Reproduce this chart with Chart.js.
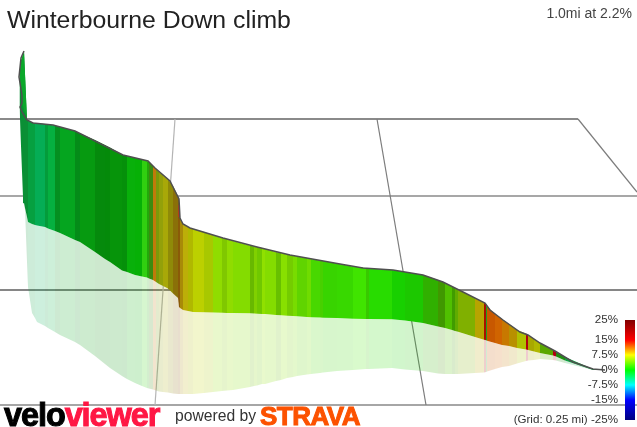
<!DOCTYPE html>
<html><head><meta charset="utf-8">
<script src="https://cdn.jsdelivr.net/npm/chart.js@4/dist/chart.umd.min.js"></script>
<style>
html,body{margin:0;padding:0;background:#fff;overflow:hidden}
#wrap{position:relative;width:637px;height:427px;overflow:hidden}
canvas{position:absolute;left:0;top:0}
.t{position:absolute;white-space:nowrap;font-family:"Liberation Sans",Arial,sans-serif;line-height:1}
#title{left:7px;top:8px;font-size:24.8px;color:#222}
#sub{right:5px;top:6px;font-size:14px;color:#444}
#velo{left:4px;top:399px;font-size:32.5px;font-weight:bold;letter-spacing:-1.1px;color:#000;-webkit-text-stroke:1px currentColor}
#velo span{color:#ff1744}
#pow{left:175px;top:408px;font-size:15.7px;color:#333}
#strava{left:260px;top:403px;font-size:26px;font-weight:bold;color:#fc5200;-webkit-text-stroke:1px #fc5200;letter-spacing:-.5px}
</style></head><body><div id="wrap">
<canvas id="c" width="637" height="427"></canvas>
<div class="t" id="title">Winterbourne Down climb</div>
<div class="t" id="sub">1.0mi at 2.2%</div>
<div class="t" id="velo">velo<span>viewer</span></div>
<div class="t" id="pow">powered by</div>
<div class="t" id="strava">STRAVA</div>
</div>
<script>
const stripX=[19.5,21,23,24,25,27,28,32,35,37,45,48,55,60,75,80,95,105,110,122,127,135,142,147,149,153,156,159,163,168,173,178,179,180,183,188,193,204,213,222,227,233,250,254,257,262,265,276,281,287,293,297,307,311,320,323,337,353,366,369,392,405,423,438,445,452,455,458,475,484,486,487,495,502,509,517,526,528,534,540,553,556,565,593,603];
const topEdge=[75,63,57,51,74,120,120,122.5,123,123.2,124,124.4,125.6,127,131,133.5,140,145,147.5,154.5,156,158,159.5,161,162,166,169,172,175,179,186,196,199,218,224,227,229,232,235,238,239,241,245.5,246.5,247,248,249,252,253,254.5,255.5,256.5,258,259,260.5,261,263.5,266.5,268,268.4,270,272,275,280,283,286.5,288,289.5,298,302.5,304,306.5,314,319,324,330,333.5,335,339,343,350,352,357,369,370];
const foldEdge=[105,146,197,203,208,217,222,224,225,225.5,227,228.4,231,233,240,242,252,259,262,270.5,272,275,276.5,277.5,278.5,280,282,284,286,288.5,293.5,298,307,308,310,311,312,312.3,312.6,312.8,313,313,313.3,313.5,313.7,314,314,315,315.3,315.8,316,316.3,317,317.2,317.5,317.7,318,318.7,319,319,319.2,320.6,323,326.5,328,330,331,331.7,337,339.7,340.3,340.8,343,345,346,348,349.5,350,351.5,353,355.5,356.5,360.5,370,370];
const mirrorEdge=[105,146,197,204,210,262,287,313,318,322,326,328,332,335,342,345,356,364,368,376,379,383,386,388,388.5,389.5,390.5,391.5,392,392.5,393.5,394,394,394,394,394,394,393,392,391,390.5,390,387,386,385.5,384,384,381,380,378,377,376,374.5,374,373,372.5,371,370,369,369,368,369.5,371,373.5,374,374,374,374,373,372.5,372,371.5,369,367,366,363.5,361,360.5,360,359,360,360.5,363,370,370];
const stripColours=["#0a8f35","#0a8f35","#0a8f35","#0a8f35","#0a8f35","#0a8f35","#06a040","#06a040","#05ad55","#05ad55","#049c3a","#05b040","#049020","#05a51f","#048c18","#069a10","#058a0c","#048a0a","#06940a","#05900a","#08b00a","#06b006","#30d010","#22a80a","#3a8c10","#c07a0a","#7a9a0a","#93a00a","#a8a808","#8f8a08","#8a7008","#8a5a08","#8a5a08","#a88a08","#bcae08","#b0b800","#bcd000","#a8c800","#90dc00","#80c800","#90dc00","#84dc00","#68b800","#80d000","#70c800","#90e000","#84dc00","#68c000","#88e000","#74cc00","#78dc00","#60d400","#70dc00","#48d800","#48d000","#38d400","#38d800","#40e400","#38c800","#28dc00","#18d000","#1cc800","#30b000","#409800","#50c000","#409c00","#60ac00","#80b000","#b8a400","#a81000","#20a020","#c85800","#d06400","#c87800","#b89000","#b0c000","#b00010","#a8a800","#b0b800","#5aa800","#b00010","#209010","#10a040","#10a040"];
const ridgeX=[24,21,19,22,22,20,22,27,33,53,75,97,123,148,155,170,175,179,180,183,190,223,257,290,340,363,393,423,443,463,485,490,503,520,528,540,555,573,593,605];
const ridgeY=[51,58,77,95,103,107,112,120,123,125,131,142,155,161,168,181,191,199,218,224,228,238,247,255,264,268,270,275,282,292,303,310,320,332,335,343,351,362,369,370];
const spikeUpperX=[19.5,21,24,27], spikeUpperY=[75,60,51,120];
const spikeLowerX=[19.5,22,27], spikeLowerY=[77,103,120];
const notchX=[179,179], notchY=[205,217];
const gridRows=[[0,578,119,119],[0,637,196,196],[0,637,290,290],[0,637,405,405]];
const gridCols=[[175,155,119,405],[377,426,119,405],[578,637,119,192]];
const gridRowColours=["#8a8a8a","#8a8a8a","#868686","#a6a6a6"];
const gridColColours=["#b4b4b4","#7c7c7c","#7c7c7c"];
const gradeTicks=[25,15,7.5,0,-7.5,-15,-25];
const gradeColours=["#800000","#ff0000","#ffff00","#00ff00","#00ffff","#0000ff","#000080"];
const gridNote="(Grid: 0.25 mi) ";

const zip=(xs,ys)=>xs.map((x,i)=>({x,y:ys[i]}));
const base={pointRadius:0,tension:0,borderWidth:0,fill:false};
const gridSets=[
 ...gridCols.map((g,i)=>({...base,label:"col"+i,data:[{x:g[0],y:g[2]},{x:g[1],y:g[3]}],borderColor:gridColColours[i],borderWidth:1.2})),
 ...gridRows.map((g,i)=>({...base,label:"row"+i,data:[{x:g[0],y:g[2]},{x:g[1],y:g[3]}],borderColor:gridRowColours[i],borderWidth:i==1?1.4:1.8}))
];
const datasets=[
 {...base,label:"grade",yAxisID:"y2",data:[{x:630,y:gradeTicks[0]},{x:630,y:gradeTicks[6]}],borderWidth:10,borderCapStyle:"butt",
  borderColor(ctx){const ch=ctx.chart,s=ch.scales.y2;if(!s||!ch.chartArea)return "#888";
   const a=s.getPixelForValue(gradeTicks[0]),b=s.getPixelForValue(gradeTicks[6]);
   const g=ch.ctx.createLinearGradient(0,a,0,b);
   gradeTicks.forEach((t,i)=>g.addColorStop((s.getPixelForValue(t)-a)/(b-a),gradeColours[i]));return g;}},
 {...base,label:"ridge",data:zip(ridgeX,ridgeY),borderColor:"#4f4f4f",borderWidth:1.5},
 {...base,label:"notch",data:zip(notchX,notchY),borderColor:"#c03020",borderWidth:1.5},
 {...base,label:"spike",data:zip(spikeUpperX,spikeUpperY),fill:"+1",backgroundColor:"#0aa82a"},
 {...base,label:"spikeLow",data:zip(spikeLowerX,spikeLowerY)},
 {...base,label:"climb",data:zip(stripX,topEdge),fill:"+1",backgroundColor:"#0a8f35",
  segment:{backgroundColor:c=>stripColours[c.p0DataIndex]}},
 {...base,label:"fold",data:zip(stripX,foldEdge),fill:"+1",backgroundColor:"#0a8f3533",
  segment:{backgroundColor:c=>stripColours[c.p0DataIndex]+"33"}},
 {...base,label:"mirror",data:zip(stripX,mirrorEdge)},
 ...gridSets
];
new Chart(document.getElementById("c"),{
 type:"line",
 data:{datasets},
 options:{
  responsive:false,animation:false,devicePixelRatio:1,
  layout:{padding:0,autoPadding:false},
  plugins:{legend:{display:false},tooltip:{enabled:false},title:{display:false}},
  scales:{
   x:{type:"linear",min:0,max:637,display:false},
   y:{type:"linear",min:0,max:427,reverse:true,display:false},
   y2:{type:"linear",position:"right",min:-28.5,max:185,
    grid:{display:false,drawTicks:false,tickLength:0},border:{display:false},
    afterBuildTicks(a){a.ticks=gradeTicks.map(value=>({value}));},
    afterFit(a){a.width=0;a.paddingTop=0;a.paddingBottom=0;a.paddingLeft=0;a.paddingRight=0;},
    ticks:{mirror:true,padding:-19,color:"#333",autoSkip:false,maxRotation:0,font:{family:"Liberation Sans",size:11.6},
     callback:v=>(v===-25?gridNote:"")+v+"%"}}
  }
 }
});
</script></body></html>
